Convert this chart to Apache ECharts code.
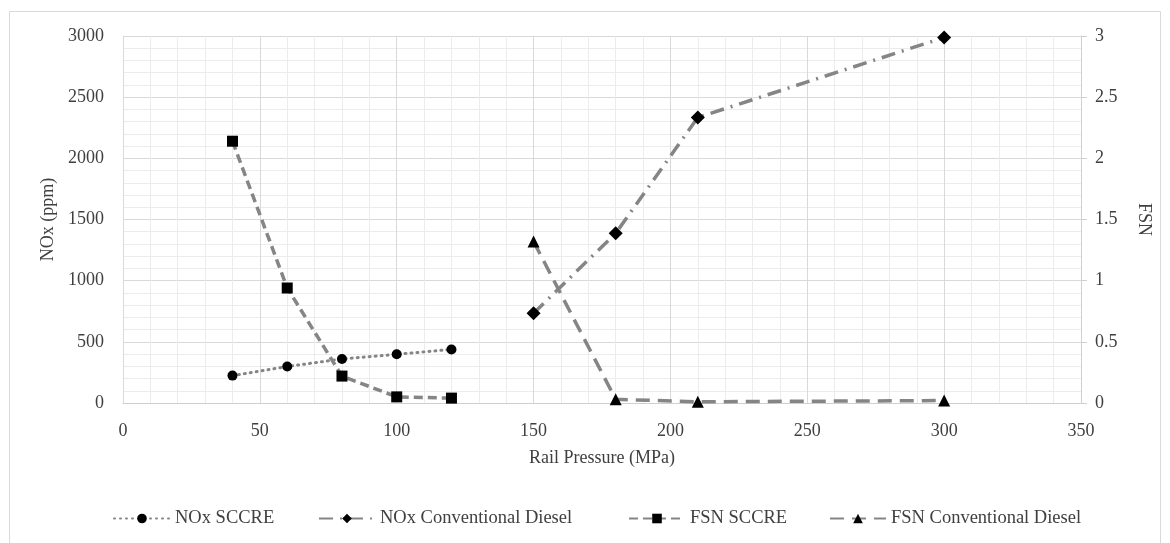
<!DOCTYPE html>
<html>
<head>
<meta charset="utf-8">
<script src="https://cdn.jsdelivr.net/npm/echarts@6/dist/echarts.min.js"></script>
<style>
  html, body { margin: 0; padding: 0; background: #fff; }
  #main { width: 1170px; height: 543px; }
</style>
</head>
<body>
<div id="main"></div>
<script>
// values
const pressureSccre = [40, 60, 80, 100, 120];
const pressureConv = [150, 180, 210, 300];
const noxSccre = [224, 298, 360, 398, 438];
const noxConv = [734, 1387, 2334, 2988];
const fsnSccre = [2.14, 0.94, 0.22, 0.05, 0.04];
const fsnConv = [1.32, 0.03, 0.01, 0.02];

const seriesNames = ['NOx SCCRE', 'NOx Conventional Diesel', 'FSN SCCRE', 'FSN Conventional Diesel'];
// left edge of each legend entry (Excel spaces them unevenly)
const legendLefts = [108, 313, 623, 824];

function pairs(xs, ys) {
    return xs.map((x, i) => [x, ys[i]]);
}

const font = '"Liberation Serif", "DejaVu Serif", serif';
const txt = '#404040';
const lineGray = '#858585';

var myChart = echarts.init(document.getElementById('main'));
var option = {
    animation: false,
    textStyle: { fontFamily: font, color: txt },
    graphic: [{
        type: 'rect',
        shape: { x: 9.5, y: 11.5, width: 1151, height: 540 },
        style: { fill: 'none', stroke: '#d9d9d9', lineWidth: 1 },
        silent: true
    }],
    grid: { left: 123, right: 89, top: 36, bottom: 140 },
    legend: seriesNames.map((name, i) => ({
        data: [name],
        left: legendLefts[i],
        bottom: 10,
        itemWidth: 56,
        itemHeight: 12,
        textStyle: { fontFamily: font, fontSize: 18.5, color: txt }
    })),
    xAxis: {
        type: 'value',
        min: 0, max: 350, interval: 50,
        name: 'Rail Pressure (MPa)',
        nameLocation: 'middle',
        nameGap: 46,
        nameTextStyle: { fontFamily: font, fontSize: 18, color: txt },
        axisLine: { show: true, lineStyle: { color: '#cfcfcf' } },
        axisTick: { show: false },
        axisLabel: { fontFamily: font, fontSize: 18, color: txt, margin: 19 },
        splitLine: { show: true, lineStyle: { color: '#d9d9d9' } },
        minorTick: { show: false, splitNumber: 5 },
        minorSplitLine: { show: true, lineStyle: { color: '#ececec' } }
    },
    yAxis: [{
        type: 'value',
        min: 0, max: 3000, interval: 500,
        name: 'NOx (ppm)',
        nameLocation: 'middle',
        nameGap: 66,
        nameRotate: 90,
        nameTextStyle: { fontFamily: font, fontSize: 18, color: txt },
        axisLine: { show: true, lineStyle: { color: '#d9d9d9' } },
        axisTick: { show: false },
        axisLabel: { fontFamily: font, fontSize: 18, color: txt, margin: 19, formatter: v => String(v) },
        splitLine: { show: true, lineStyle: { color: '#d9d9d9' } },
        minorTick: { show: false, splitNumber: 5 },
        minorSplitLine: { show: true, lineStyle: { color: '#ececec' } }
    }, {
        type: 'value',
        min: 0, max: 3, interval: 0.5,
        name: 'FSN',
        nameLocation: 'middle',
        nameGap: 54,
        nameRotate: -90,
        nameTextStyle: { fontFamily: font, fontSize: 18, color: txt },
        axisLine: { show: true, lineStyle: { color: '#cfcfcf' } },
        axisTick: { show: true, length: 6, lineStyle: { color: '#cfcfcf' } },
        axisLabel: { fontFamily: font, fontSize: 18, color: txt, margin: 14 },
        splitLine: { show: false }
    }],
    series: [{
        name: seriesNames[0],
        type: 'line',
        yAxisIndex: 0,
        data: pairs(pressureSccre, noxSccre),
        symbol: 'circle',
        symbolSize: 10,
        itemStyle: { color: '#000' },
        lineStyle: { color: lineGray, width: 3, type: [1, 5], cap: 'round' }
    }, {
        name: seriesNames[1],
        type: 'line',
        yAxisIndex: 0,
        data: pairs(pressureConv, noxConv),
        symbol: 'diamond',
        symbolSize: 14,
        itemStyle: { color: '#000' },
        lineStyle: { color: lineGray, width: 3.5, type: [14, 7, 2, 7] }
    }, {
        name: seriesNames[2],
        type: 'line',
        yAxisIndex: 1,
        data: pairs(pressureSccre, fsnSccre),
        symbol: 'rect',
        symbolSize: 11,
        itemStyle: { color: '#000' },
        lineStyle: { color: lineGray, width: 3.5, type: [9, 5] }
    }, {
        name: seriesNames[3],
        type: 'line',
        yAxisIndex: 1,
        data: pairs(pressureConv, fsnConv),
        symbol: 'triangle',
        symbolSize: 12,
        itemStyle: { color: '#000' },
        lineStyle: { color: lineGray, width: 3.5, type: [14, 8] }
    }]
};
myChart.setOption(option);
</script>
</body>
</html>
